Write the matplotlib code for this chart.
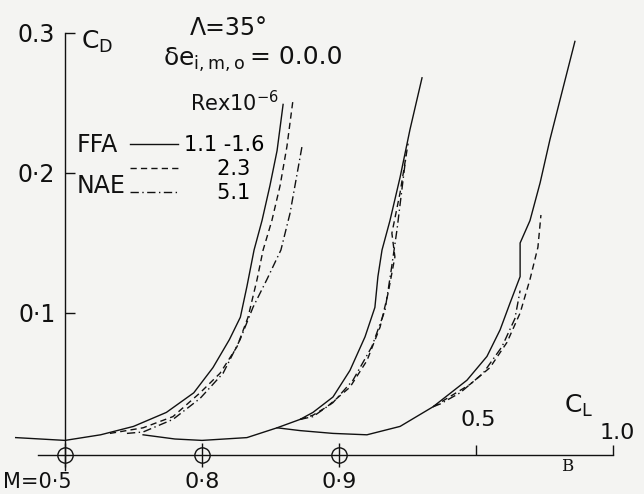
import matplotlib.pyplot as plt
from matplotlib.lines import Line2D

plt.rcParams['font.family'] = ['DejaVu Sans']
plt.rcParams['mathtext.default'] = 'regular'

# CL offsets of each Mach number (curves are staggered by 0.5 in CL)
mach_labels = ["M=0·5", "0·8", "0·9"]
mach_offsets = [0.0, 0.5, 1.0]

# M = 0.5
m05_ffa_cl = [-0.18, 0.0, 0.13, 0.25, 0.37, 0.47, 0.54, 0.60, 0.64, 0.664, 0.69, 0.719, 0.748, 0.774, 0.796]
m05_ffa_cd = [0.011, 0.009, 0.013, 0.019, 0.029, 0.043, 0.061, 0.081, 0.097, 0.119, 0.145, 0.166, 0.191, 0.216, 0.249]
m05_nae23_cl = [0.164, 0.285, 0.394, 0.493, 0.566, 0.628, 0.668, 0.701, 0.723, 0.755, 0.785, 0.810, 0.832]
m05_nae23_cd = [0.014, 0.018, 0.026, 0.043, 0.057, 0.076, 0.097, 0.124, 0.145, 0.166, 0.191, 0.219, 0.252]
m05_nae51_cl = [0.226, 0.285, 0.394, 0.493, 0.577, 0.639, 0.686, 0.737, 0.788, 0.821, 0.843, 0.865]
m05_nae51_cd = [0.014, 0.015, 0.024, 0.039, 0.057, 0.081, 0.104, 0.124, 0.145, 0.171, 0.195, 0.219]

# M = 0.8
m08_ffa_cl = [-0.215, -0.099, 0.0, 0.164, 0.274, 0.358, 0.405, 0.478, 0.540, 0.595, 0.631, 0.642, 0.657, 0.686, 0.723, 0.759, 0.803]
m08_ffa_cd = [0.013, 0.010, 0.009, 0.011, 0.018, 0.024, 0.029, 0.040, 0.059, 0.083, 0.104, 0.126, 0.145, 0.166, 0.197, 0.231, 0.268]
m08_nae23_cl = [0.358, 0.405, 0.456, 0.540, 0.602, 0.650, 0.679, 0.704, 0.693, 0.723, 0.752]
m08_nae23_cd = [0.024, 0.027, 0.033, 0.047, 0.066, 0.090, 0.114, 0.140, 0.157, 0.186, 0.221]
m08_nae51_cl = [0.358, 0.405, 0.478, 0.551, 0.620, 0.668, 0.690, 0.712, 0.745]
m08_nae51_cd = [0.024, 0.026, 0.036, 0.052, 0.076, 0.102, 0.130, 0.160, 0.213]

# M = 0.9
m09_ffa_cl = [-0.226, -0.142, -0.022, 0.102, 0.223, 0.343, 0.467, 0.540, 0.588, 0.624, 0.661, 0.661, 0.697, 0.734, 0.770, 0.818, 0.861]
m09_ffa_cd = [0.018, 0.016, 0.014, 0.013, 0.019, 0.033, 0.052, 0.069, 0.088, 0.107, 0.126, 0.150, 0.166, 0.193, 0.224, 0.261, 0.294]
m09_nae23_cl = [0.343, 0.369, 0.478, 0.551, 0.613, 0.661, 0.697, 0.726, 0.737]
m09_nae23_cd = [0.033, 0.036, 0.049, 0.061, 0.079, 0.100, 0.124, 0.147, 0.170]
m09_nae51_cl = [0.343, 0.369, 0.442, 0.526, 0.595, 0.642, 0.661]
m09_nae51_cd = [0.033, 0.035, 0.043, 0.057, 0.076, 0.096, 0.116]

series = [
    (0.0, m05_ffa_cl, m05_ffa_cd, m05_nae23_cl, m05_nae23_cd, m05_nae51_cl, m05_nae51_cd),
    (0.5, m08_ffa_cl, m08_ffa_cd, m08_nae23_cl, m08_nae23_cd, m08_nae51_cl, m08_nae51_cd),
    (1.0, m09_ffa_cl, m09_ffa_cd, m09_nae23_cl, m09_nae23_cd, m09_nae51_cl, m09_nae51_cd),
]

bg = '#f4f4f2'
ink = '#111111'
dash = (4.5, 3)
dashdot = (6, 2.5, 1, 2.5)

fig = plt.figure(figsize=(6.44, 4.94), dpi=100, facecolor=bg)
ax = fig.add_axes([0, 0, 1, 1], facecolor=bg)
ax.set_xlim(-65 / 274, (644 - 65) / 274)
ax.set_ylim(-41 / 1400, 453 / 1400)

for off, fcl, fcd, dcl, dcd, ecl, ecd in series:
    ax.plot([c + off for c in fcl], fcd, color=ink, lw=1.0)
    ax.plot([c + off for c in dcl], dcd, color=ink, lw=1.0, dashes=dash)
    ax.plot([c + off for c in ecl], ecd, color=ink, lw=1.0, dashes=dashdot)

# axes drawn through spines
for s in ['top', 'right']:
    ax.spines[s].set_visible(False)
ax.spines['left'].set_position(('data', 0))
ax.spines['left'].set_bounds(-0.012, 0.3)
ax.spines['bottom'].set_position(('data', -0.0014))
ax.spines['bottom'].set_bounds(-0.1, 2.0)
for s in ['left', 'bottom']:
    ax.spines[s].set_color(ink)
    ax.spines[s].set_linewidth(1.0)
ax.set_yticks([0.1, 0.2, 0.3])
ax.set_yticklabels(["0·1", "0·2", "0.3"])
ax.tick_params(axis='y', direction='in', length=7, width=1.0, pad=7,
               labelsize=17, colors=ink)
ax.set_xticks([1.5, 2.0])
ax.set_xticklabels(["", ""])
ax.tick_params(axis='x', direction='in', length=7, width=1.0, colors=ink)

# Mach origin markers
ax.plot(mach_offsets, [-0.0014] * 3, ls='none', marker='o', ms=11,
        mfc='none', mec=ink, mew=1.0)
ax.plot(mach_offsets, [-0.0014] * 3, ls='none', marker='|', ms=17,
        mec=ink, mew=1.0)
for lab, off in zip(mach_labels, mach_offsets):
    if lab.startswith("M"):
        ax.text(off - 0.228, -0.021, lab, ha='left', va='center', fontsize=15, color=ink)
    else:
        ax.text(off, -0.021, lab, ha='center', va='center', fontsize=16, color=ink)

# axis titles and scale labels
ax.text(0.06, 0.2936, '$C_D$', ha='left', va='center', fontsize=18, color=ink)
ax.text(1.51, 0.0236, '0.5', ha='center', va='center', fontsize=16, color=ink)
ax.text(1.82, 0.034, '$C_L$', ha='left', va='center', fontsize=18, color=ink)
ax.text(2.015, 0.0145, '1.0', ha='center', va='center', fontsize=16, color=ink)
ax.text(1.832, -0.0093, 'B', ha='center', va='center', fontsize=12,
        family='DejaVu Serif', color=ink)

# test conditions
ax.text(0.456, 0.3036, 'Λ=35°', ha='left', va='center', fontsize=17, color=ink)
ax.text(0.358, 0.281, 'δe$_{i,m,o}$', ha='left', va='center', fontsize=18, color=ink)
ax.text(0.675, 0.283, '= 0.0.0', ha='left', va='center', fontsize=18, color=ink)
ax.text(0.456, 0.25, 'Rex10$^{-6}$', ha='left', va='center', fontsize=15, color=ink)
ax.text(0.044, 0.22, 'FFA', ha='left', va='center', fontsize=17, color=ink)
ax.text(0.044, 0.1907, 'NAE', ha='left', va='center', fontsize=17, color=ink)

handles = [Line2D([], [], color=ink, lw=1.0),
           Line2D([], [], color=ink, lw=1.0, dashes=dash),
           Line2D([], [], color=ink, lw=1.0, dashes=dashdot)]
ax.legend(handles, ["1.1 -1.6", "     2.3", "     5.1"], loc='upper left',
          bbox_to_anchor=(0.202, 0.727), frameon=False, fontsize=15,
          handlelength=2.3, handletextpad=0.3, labelspacing=0.2,
          borderpad=0, borderaxespad=0)

fig.savefig('out.png', dpi=100, facecolor=bg)
